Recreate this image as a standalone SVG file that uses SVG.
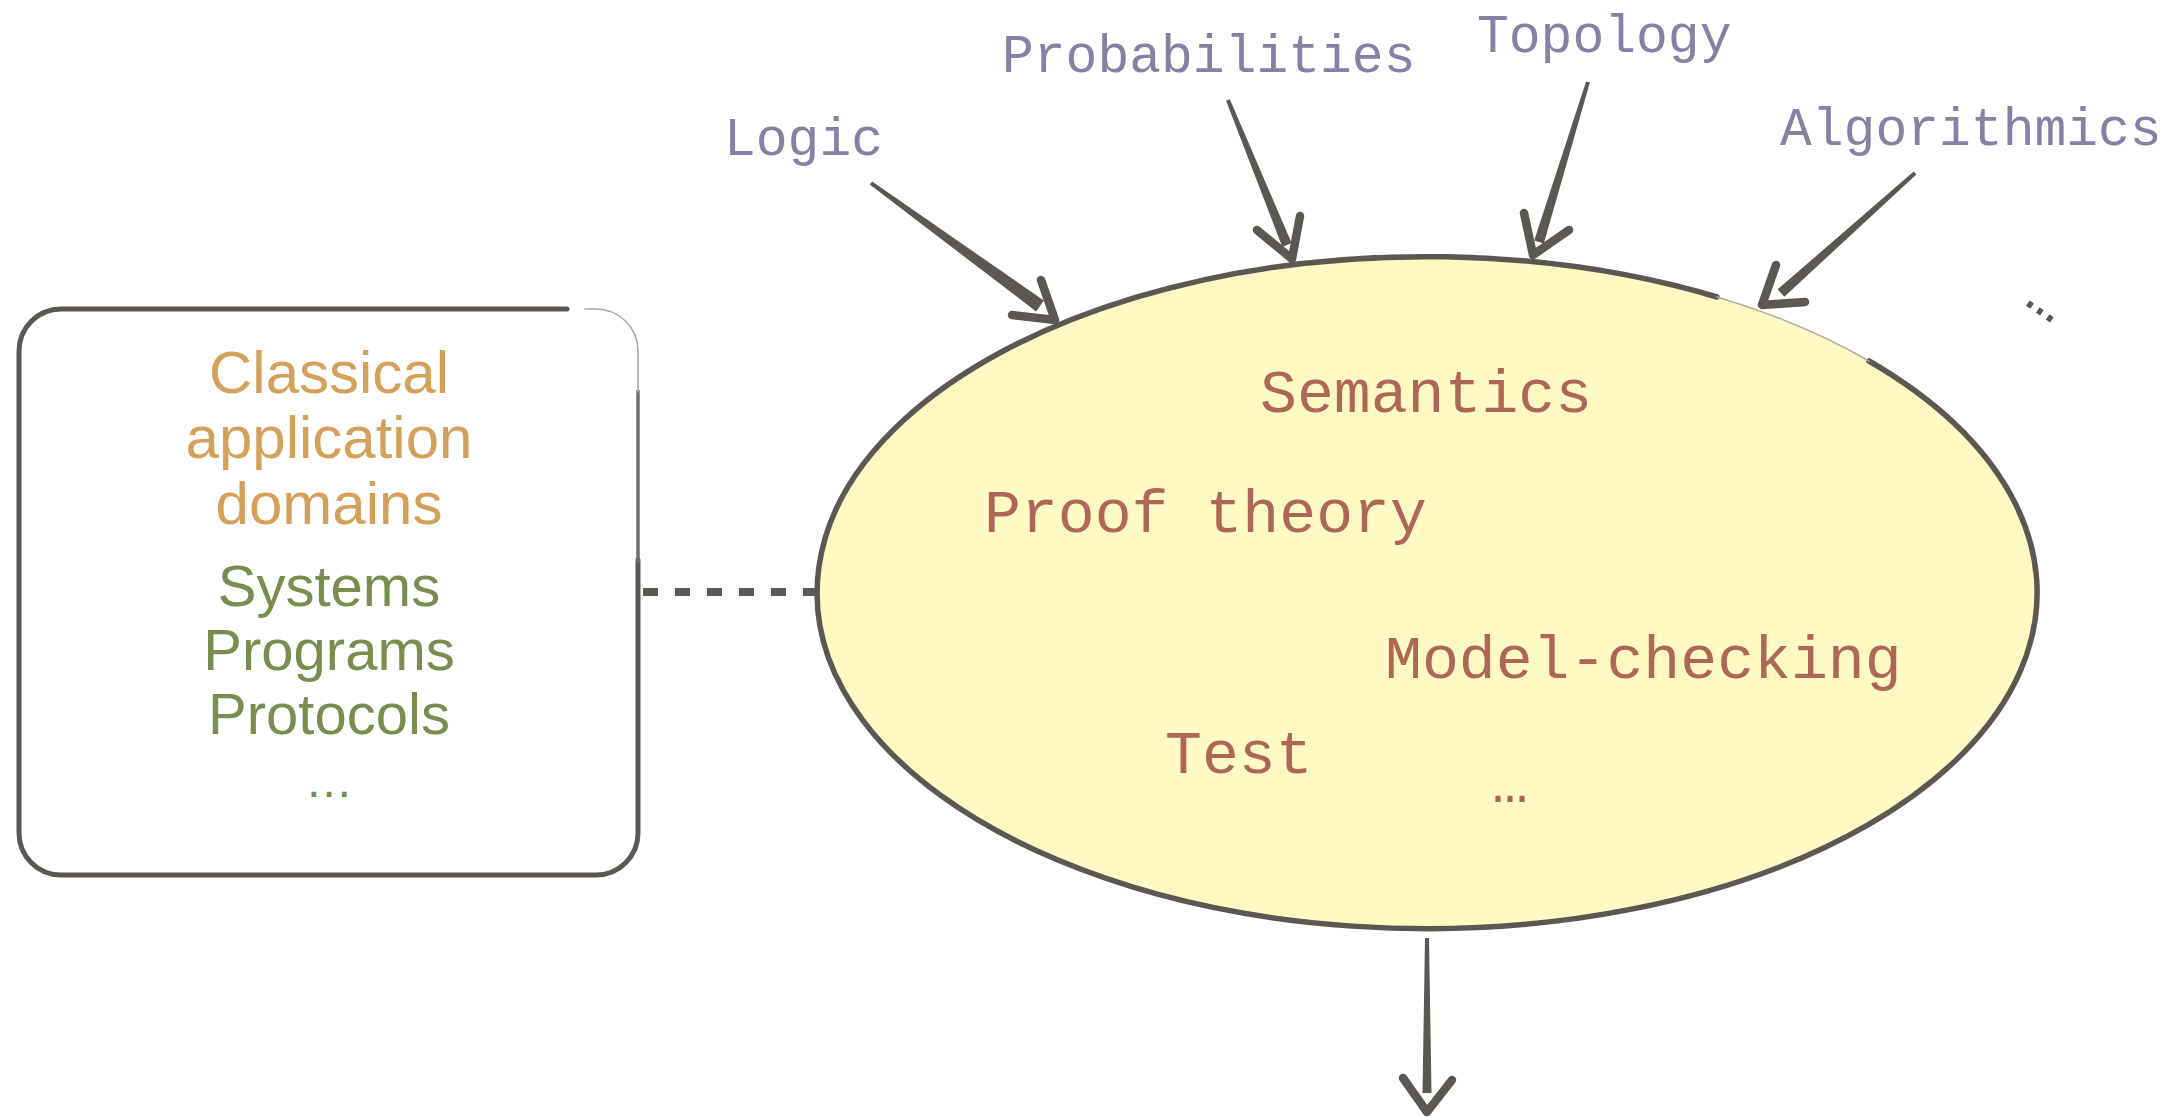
<svg xmlns="http://www.w3.org/2000/svg" width="2172" height="1117" viewBox="0 0 2172 1117">
  <style>
    .ink { fill: #5b5853; }
    .line { fill: none; stroke: #5b5853; stroke-linecap: round; stroke-linejoin: round; }
    .faint { fill: none; stroke: #aaa8a3; stroke-width: 1.6; stroke-linecap: round; }
    .head { fill: none; stroke: #5b5853; stroke-width: 8.5; stroke-linecap: round; stroke-linejoin: round; }
    .sans { font-family: "Liberation Sans", Arial, sans-serif; font-size: 60px; text-anchor: middle; }
    .mono { font-family: "Liberation Mono", "Courier New", monospace; }
    .domain { fill: #d4a15a; }
    .example { fill: #7a8c4e; font-size: 58px; }
    .field { fill: #887fa4; font-size: 53px; }
    .method { fill: #ae6756; font-size: 61.5px; }
  </style>

  <rect width="2172" height="1117" fill="#ffffff"/>

  <!-- application domains box -->
  <g id="domains">
    <path class="line" stroke-width="5" d="M 567 309 L 61 309 A 42 42 0 0 0 19 351 L 19 833 A 42 42 0 0 0 61 875 L 596 875 A 42 42 0 0 0 638 833 L 638 560"/>
    <path fill="none" stroke="#6f6d68" stroke-width="3.5" d="M 638 562 L 638 390"/>
    <path class="faint" d="M 638 392 L 638 351 A 42 42 0 0 0 596 309 L 585 309"/>
    <text class="sans domain" x="329" y="393">Classical</text>
    <text class="sans domain" x="329" y="458">application</text>
    <text class="sans domain" x="329" y="524">domains</text>
    <text class="sans example" x="329" y="606">Systems</text>
    <text class="sans example" x="329" y="670">Programs</text>
    <text class="sans example" x="329" y="734">Protocols</text>
    <text class="sans example" x="329" y="797" style="font-size:48px">…</text>
  </g>

  <!-- verification methods ellipse -->
  <g id="methods">
    <ellipse cx="1426" cy="592" rx="610" ry="336" fill="#fffac2"/>
    <path class="line" stroke-width="5.5" d="M 1869 361 A 610 336 0 1 1 1717 297"/>
    <path class="faint" d="M 1717 297 A 610 336 0 0 1 1869 361"/>
    <text class="mono method" x="1260" y="412">Semantics</text>
    <text class="mono method" x="984" y="532">Proof theory</text>
    <text class="mono method" x="1385" y="678">Model-checking</text>
    <text class="mono method" x="1165" y="773">Test</text>
    <text class="mono method" x="1510" y="802" text-anchor="middle" style="font-size:60px">…</text>
  </g>

  <!-- contributing fields -->
  <g id="logic"><text class="mono field" x="724" y="155">Logic</text></g>
  <g id="probabilities"><text class="mono field" x="1002" y="72">Probabilities</text></g>
  <g id="topology"><text class="mono field" x="1477" y="52">Topology</text></g>
  <g id="algorithmics"><text class="mono field" x="1780" y="145">Algorithmics</text></g>
  <g id="more-fields"><text class="mono" x="0" y="0" transform="translate(2038,314) rotate(35)" text-anchor="middle" font-size="60" fill="#5b5853">…</text></g>

  <!-- connectors: tapered brush shafts with open heads -->
  <g id="connectors">
    <line class="line" x1="643" y1="592" x2="817" y2="592" stroke-width="8" stroke-dasharray="15 17" style="stroke-linecap:butt"/>

    <polygon class="ink" points="872.2,181.4 1043.9,300.6 1036.1,311.4 869.8,184.6"/>
    <polyline class="head" points="1041,280 1055,320 1012,315"/>

    <polygon class="ink" points="1229.9,99.2 1291.6,243.1 1282.4,246.9 1226.1,100.8"/>
    <polyline class="head" points="1257,230 1292,259 1300,216"/>

    <polygon class="ink" points="1589.9,82.6 1543.8,243.4 1534.2,240.6 1586.1,81.4"/>
    <polyline class="head" points="1524,213 1533,255 1569,230"/>

    <polygon class="ink" points="1916.3,174.5 1784.3,296.7 1777.7,289.3 1913.7,171.5"/>
    <polyline class="head" points="1776,265 1762,305 1805,302"/>

    <polygon class="ink" points="1425,938 1429,938 1431.5,1093 1422.5,1093"/>
    <polyline class="head" points="1403,1078 1427,1112 1452,1080"/>
  </g>
</svg>
